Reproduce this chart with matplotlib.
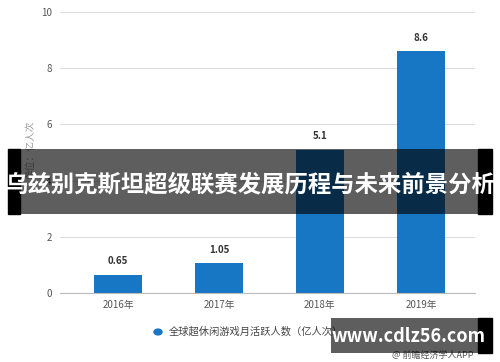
import matplotlib
matplotlib.use("Agg")
import matplotlib.pyplot as plt
from matplotlib.patches import Rectangle, Circle

plt.rcParams['font.family'] = ['Noto Sans CJK SC', 'DejaVu Sans']

years = ['2016年', '2017年', '2018年', '2019年']
users = [0.65, 1.05, 5.1, 8.6]
value_labels = ['0.65', '1.05', '5.1', '8.6']
y_ticks = [0, 2, 4, 6, 8, 10]

legend_text = '全球超休闲游戏月活跃人数（亿人次）'
unit_text = '单位：亿人次'
banner_text = '乌兹别克斯坦超级联赛发展历程与未来前景分析'
site_text = 'www.cdlz56.com'
source_text = '@ 前瞻经济学人APP'

bar_color = '#1777c4'
W, H = 500, 362

fig = plt.figure(figsize=(5, 3.62), dpi=100)
ax = fig.add_axes([60 / W, 1 - 293 / H, 415 / W, 281 / H])

x = list(range(len(years)))
ax.bar(x, users, width=0.48, color=bar_color, zorder=2)
for xi, v, lab in zip(x, users, value_labels):
    ax.text(xi, v + 0.3, lab, ha='center', va='bottom', fontsize=7,
            fontweight='bold', color='#333333')

ax.set_xlim(-0.574, 3.535)
ax.set_ylim(0, 10)
ax.set_yticks(y_ticks)
ax.set_xticks(x)
ax.set_xticklabels(years)
ax.grid(axis='y', color='#dddddd', linewidth=0.8, zorder=0)
for s in ['top', 'right', 'left']:
    ax.spines[s].set_visible(False)
ax.spines['bottom'].set_color('#bbbbbb')
ax.tick_params(axis='both', length=0, labelsize=7, colors='#555555')
ax.tick_params(axis='y', pad=6)
ax.tick_params(axis='x', pad=5)
ax.set_ylabel(unit_text, fontsize=7, color='#999999')
ax.yaxis.set_label_coords(-0.06, 0.51)

# legend
fig.patches.append(Circle((158 / W, 1 - 332 / H), 4 / W, transform=fig.transFigure,
                          color=bar_color, zorder=5))
fig.text(169 / W, 1 - 332 / H, legend_text, fontsize=7.4, color='#444444',
         ha='left', va='center')

# banner overlay
fig.patches.append(Rectangle((8 / W, 1 - 214 / H), 12 / W, 65 / H,
                             transform=fig.transFigure, color='black', zorder=10))
fig.patches.append(Rectangle((20 / W, 1 - 214 / H), 458 / W, 65 / H,
                             transform=fig.transFigure, color='black', alpha=0.63,
                             linewidth=0, zorder=10))
fig.patches.append(Rectangle((478 / W, 1 - 214 / H), 14 / W, 65 / H,
                             transform=fig.transFigure, color='black', zorder=10))
fig.text(250 / W, 1 - 184 / H, banner_text, fontsize=16.8, fontweight='bold',
         color='white', ha='center', va='center', zorder=11)

# site watermark
fig.patches.append(Rectangle((331 / W, 1 - 353 / H), 147 / W, 35 / H,
                             transform=fig.transFigure, color='black', alpha=0.63,
                             linewidth=0, zorder=10))
fig.patches.append(Rectangle((478 / W, 1 - 353 / H), 14 / W, 35 / H,
                             transform=fig.transFigure, color='black', zorder=10))
fig.text(409 / W, 1 - 336 / H, site_text, fontsize=13, fontweight='bold',
         color='white', ha='center', va='center', zorder=11)
fig.text(474 / W, 1 - 355 / H, source_text, fontsize=6.5, color='#555555',
         ha='right', va='center', zorder=9)

fig.savefig('out.png', dpi=100)
